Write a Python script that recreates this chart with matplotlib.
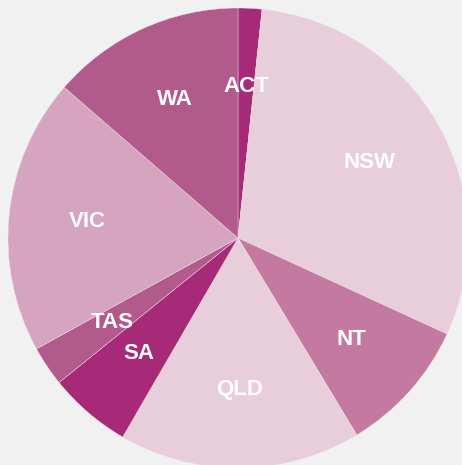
import numpy as np
import matplotlib.pyplot as plt

states = ['ACT', 'NSW', 'NT', 'QLD', 'SA', 'TAS', 'VIC', 'WA']
shares = [1.67, 30.18, 9.51, 16.99, 5.83, 2.81, 19.37, 13.63]
colors = ['#a62a78', '#e8cedb', '#c47aa0', '#e8cedb', '#a62a78', '#b35a8c', '#d5a4bf', '#b35a8c']

fig = plt.figure(figsize=(4.62, 4.65), dpi=100, facecolor='#f1f1f1')
ax = fig.add_axes([8 / 462, -3 / 465, 460 / 462, 460 / 465])
ax.set_facecolor('#f1f1f1')

wedges, _ = ax.pie(shares, colors=colors, startangle=90, counterclock=False,
                   radius=1.0, wedgeprops=dict(edgecolor='#f0e0e9', linewidth=0.3))

# labels sit at the middle of each wedge
for w, name in zip(wedges, states):
    mid = np.deg2rad((w.theta1 + w.theta2) / 2)
    r = 0.66
    ax.text(r * np.cos(mid), r * np.sin(mid), name, ha='center', va='center',
            color='white', fontsize=16, fontweight='bold',
            family=['Liberation Sans Narrow', 'Liberation Sans', 'DejaVu Sans'])

ax.set_xlim(-1, 1)
ax.set_ylim(-1, 1)
ax.set_aspect('auto')
ax.axis('off')

fig.savefig('out.png', dpi=100, facecolor=fig.get_facecolor())
